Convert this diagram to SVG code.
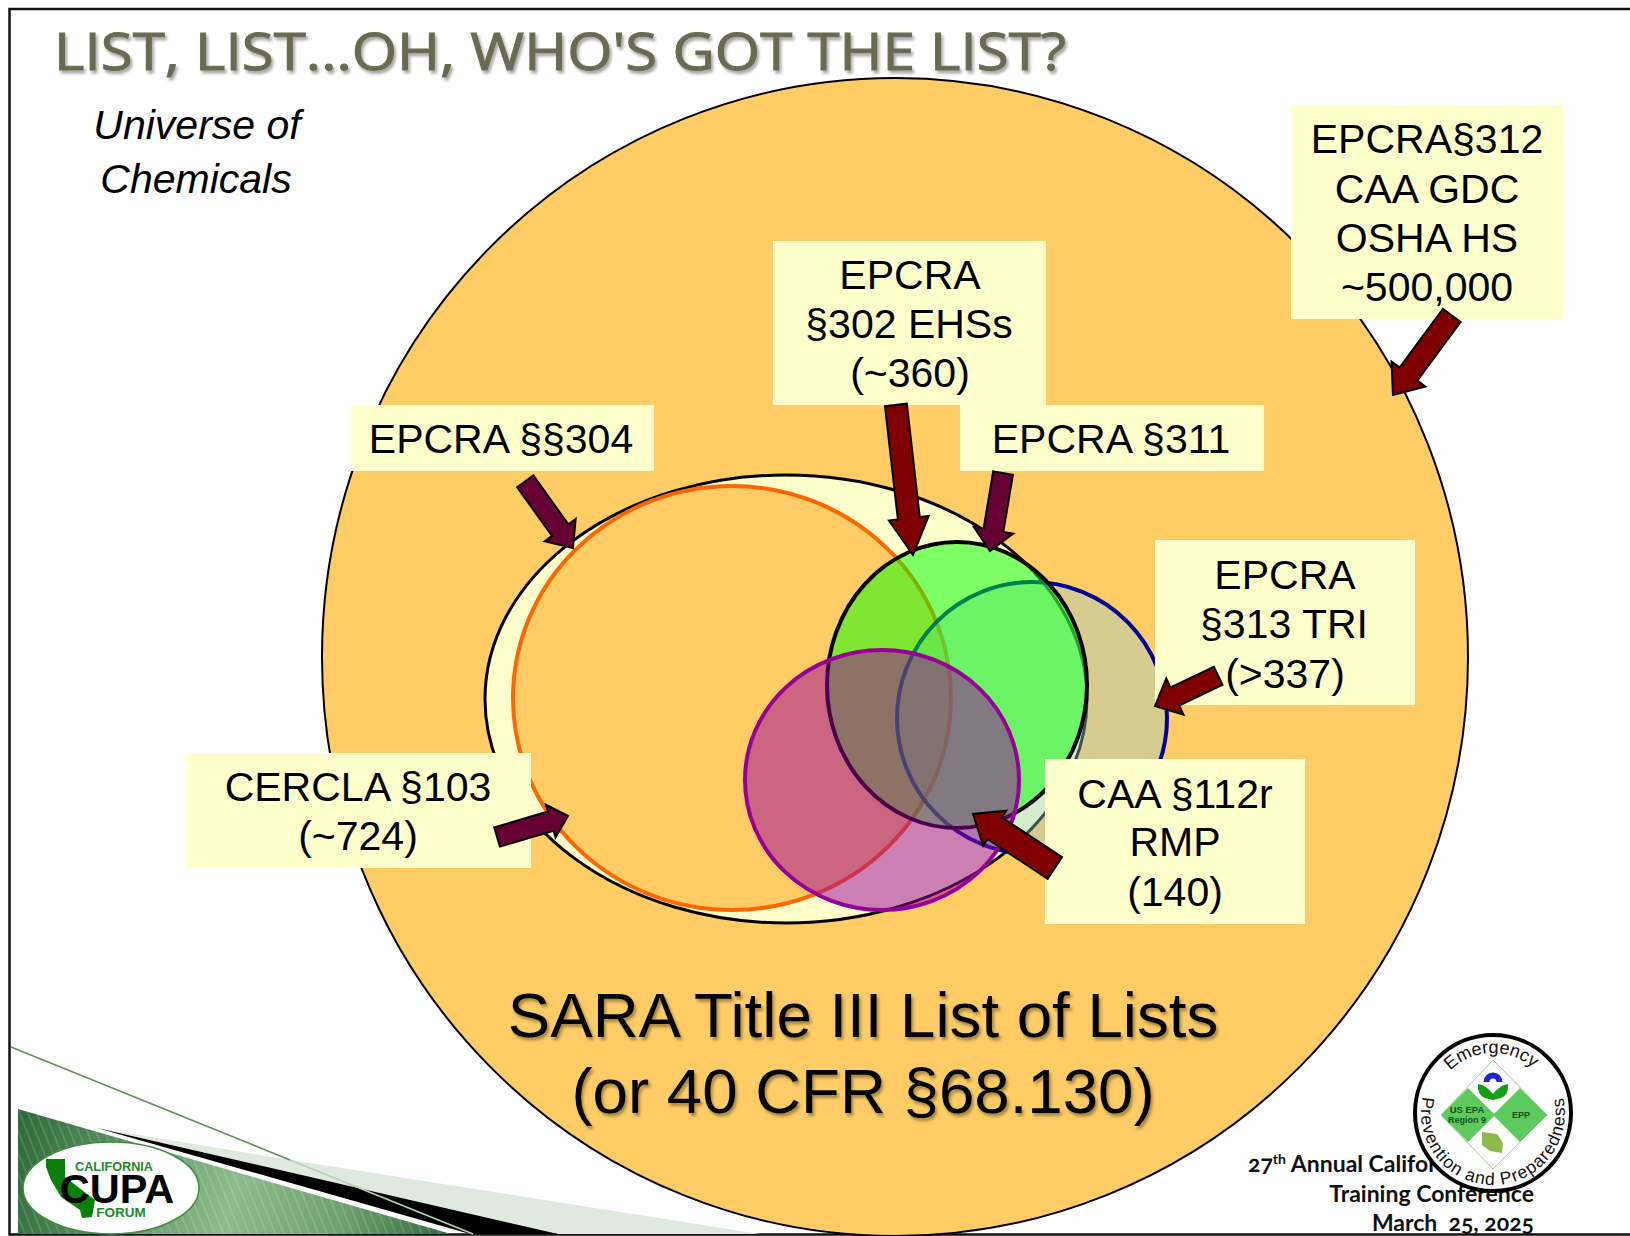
<svg xmlns="http://www.w3.org/2000/svg" width="1630" height="1236" viewBox="0 0 1630 1236">
<style>
.lb{font-family:"Liberation Sans",Arial,sans-serif;font-size:41px;fill:#000;text-anchor:middle}
.box{fill:#FFFFCC}
.ar{fill:#800000;stroke:#000;stroke-width:2}
.ap{fill:#660033;stroke:#000;stroke-width:2}
.ft{font-family:"Lato","Open Sans",sans-serif;font-weight:700;font-size:23px;fill:#111;font-variant-numeric:oldstyle-nums}
.em{font-family:"Liberation Sans",Arial,sans-serif;font-size:17.5px;fill:#111}
.sm{font-family:"Liberation Sans",Arial,sans-serif;font-weight:700;text-anchor:middle;fill:#14501E}
</style>
<defs>
<filter id="sh" x="-5%" y="-20%" width="110%" height="140%"><feDropShadow dx="2" dy="3" stdDeviation="1.5" flood-color="#000" flood-opacity=".35"/></filter>
<linearGradient id="gg" gradientUnits="userSpaceOnUse" x1="18" y1="1130" x2="450" y2="1234">
<stop offset="0" stop-color="#2F6B3A"/><stop offset=".5" stop-color="#8DBB8D"/><stop offset=".75" stop-color="#6FA270"/><stop offset="1" stop-color="#2F6B3A"/>
</linearGradient>
<pattern id="hatch" width="8" height="8" patternUnits="userSpaceOnUse" patternTransform="rotate(-22)"><rect width="2" height="8" fill="#fff" opacity=".13"/></pattern>
<path id="em1" d="M1433 1113a60 60 0 0 1 120 0"/>
<path id="em2" d="M1425.300 1088.400a72 72 0 1 0 135.400 0"/>
</defs>
<rect width="1630" height="1236" fill="#fff"/>
<path d="M1630 9H9.500V1234.500H1630" fill="none" stroke="#111" stroke-width="2.500"/>

<g id="footer-decor">
<path d="M18 1109L451 1234H18Z" fill="url(#gg)"/>
<path d="M18 1109L451 1234H18Z" fill="url(#hatch)"/>
<path d="M97 1128L291 1160L760 1234H558Z" fill="#E0E9E0"/>
<path d="M97 1128L558 1234H470Z" fill="#000"/>
<line x1="11" y1="1047" x2="290" y2="1160" stroke="#5F8F63" stroke-width="1.600"/>
<line x1="290" y1="1160" x2="473" y2="1234" stroke="#B5D0B5" stroke-width="1.800"/>
</g>

<g id="universe"><ellipse cx="895" cy="657" rx="573" ry="579" fill="#FFCC66" stroke="#000" stroke-width="2"/></g>
<g id="sara"><ellipse cx="786" cy="699" rx="301" ry="224" fill="#FFFFCC" stroke="#000" stroke-width="3"/></g>
<g id="cercla-circle"><ellipse cx="732" cy="698" rx="219" ry="212" fill="#FFCC66" stroke="#FF6600" stroke-width="4"/></g>
<g id="tri-circle"><ellipse cx="1032" cy="718" rx="135" ry="136" fill="#99CCCC" fill-opacity=".4" stroke="#000099" stroke-width="4"/></g>
<g id="ehs-circle"><ellipse cx="957" cy="685" rx="130" ry="143" fill="#00FF00" fill-opacity=".5"/><ellipse cx="957" cy="685" rx="130" ry="143" fill="none" stroke="#000" stroke-width="4"/></g>
<g id="rmp-circle"><ellipse cx="882" cy="780" rx="137" ry="130" fill="#990099" fill-opacity=".5" stroke="#990099" stroke-width="4"/></g>

<g id="title"><text x="54" y="70" font-family="'Open Sans','Lato',sans-serif" font-size="52" fill="#6B6B52" stroke="#6B6B52" stroke-width="1" textLength="1012" lengthAdjust="spacingAndGlyphs" filter="url(#sh)">LIST, LIST...OH, WHO'S GOT THE LIST?</text></g>
<g id="universe-label"><text class="lb" x="197" y="139" font-style="italic">Universe of</text><text class="lb" x="196" y="193" font-style="italic">Chemicals</text></g>

<g id="n312"><rect class="box" x="1291" y="105" width="272" height="214"/><text class="lb" x="1427" y="153">EPCRA§312</text><text class="lb" x="1427" y="203">CAA GDC</text><text class="lb" x="1427" y="252">OSHA HS</text><text class="lb" x="1427" y="301">~500,000</text></g>
<g id="n302"><rect class="box" x="773" y="241" width="273" height="164"/><text class="lb" x="910" y="289">EPCRA</text><text class="lb" x="909" y="338">§302 EHSs</text><text class="lb" x="910" y="387">(~360)</text></g>
<g id="n304"><rect class="box" x="351" y="405" width="303" height="66"/><text class="lb" x="501" y="453">EPCRA §§304</text></g>
<g id="n311"><rect class="box" x="960" y="405" width="304" height="66"/><text class="lb" x="1111" y="453">EPCRA §311</text></g>
<g id="n313"><rect class="box" x="1155" y="540" width="260" height="165"/><text class="lb" x="1285" y="589">EPCRA</text><text class="lb" x="1284" y="638">§313 TRI</text><text class="lb" x="1285" y="688">(&gt;337)</text></g>
<g id="n112"><rect class="box" x="1045" y="759" width="260" height="165"/><text class="lb" x="1175" y="808">CAA §112r</text><text class="lb" x="1175" y="856">RMP</text><text class="lb" x="1175" y="906">(140)</text></g>
<g id="n103"><rect class="box" x="186" y="753" width="345" height="115"/><text class="lb" x="358" y="801">CERCLA §103</text><text class="lb" x="358" y="850">(~724)</text></g>

<g id="connectors">
<path class="ar" transform="translate(1393 395) rotate(126.4)" d="M0 0L-26-21V-11H-99V11H-26V21Z"/>
<path class="ar" transform="translate(913 555) rotate(83.5)" d="M0 0L-37-20V-11H-151V11H-37V20Z"/>
<path class="ap" transform="translate(990 551) rotate(99.500)" d="M0 0L-21-20V-10H-79V10H-21V20Z"/>
<path class="ap" transform="translate(573 548) rotate(54.400)" d="M0 0L-22-19V-10H-82V10H-22V19Z"/>
<path class="ar" transform="translate(1155 706) rotate(154.500)" d="M0 0L-22-20V-10H-70V10H-22V20Z"/>
<path class="ar" transform="translate(973 814) rotate(213.400)" d="M0 0L-26-21V-13H-98V13H-26V21Z"/>
<path class="ap" transform="translate(568 816) rotate(-16.500)" d="M0 0L-18-17V-10H-74V10H-18V17Z"/>
</g>

<g id="sara-label" filter="url(#sh)"><text x="863" y="1037" font-family="'Liberation Sans',Arial,sans-serif" font-size="63.600" text-anchor="middle">SARA Title III List of Lists</text><text x="863" y="1113" font-family="'Liberation Sans',Arial,sans-serif" font-size="63.600" text-anchor="middle">(or 40 CFR §68.130)</text></g>

<g id="cupa-logo">
<ellipse cx="111" cy="1188" rx="88" ry="46" fill="#fff" stroke="#3E8E3E" stroke-width="1.500"/>
<path d="M46 1159H65V1177L95 1200L92 1217L82 1218L80 1210L61 1197L51 1180L46 1167Z" fill="#0A7F0A"/>
<text x="114" y="1171" font-family="'Liberation Sans',Arial,sans-serif" font-weight="700" font-size="13.500" fill="#1F8A2A" text-anchor="middle" textLength="78" lengthAdjust="spacingAndGlyphs">CALIFORNIA</text>
<text x="117" y="1203" font-family="'Liberation Sans',Arial,sans-serif" font-weight="700" font-size="41.500" fill="#000" text-anchor="middle">CUPA</text>
<text x="121" y="1217" font-family="'Liberation Sans',Arial,sans-serif" font-weight="700" font-size="13.500" fill="#1F8A2A" text-anchor="middle">FORUM</text>
</g>

<g id="conference"><text class="ft" x="1248" y="1172">27<tspan font-size="14" dy="-8">th</tspan><tspan dy="8"> Annual Califor</tspan></text><text class="ft" x="1534" y="1202" text-anchor="end">Training Conference</text><text class="ft" x="1534" y="1231" text-anchor="end" xml:space="preserve">March  25, 2025</text></g>

<g id="epp-emblem">
<circle cx="1493" cy="1113" r="78" fill="#fff" stroke="#000" stroke-width="4"/>
<path d="M1493 1060L1547 1115L1493 1169L1441 1115Z" fill="#fff" stroke="#9CCB9C" stroke-width="1"/>
<path d="M1441 1115L1468 1088L1495 1115L1468 1142ZM1493 1115L1520 1088L1547 1115L1520 1142Z" fill="#5CCB5C"/>
<path d="M1483.500 1082a9.500 9.500 0 0 1 19 0h-6a3.500 3.500 0 0 0-7 0Z" fill="#2222CC"/>
<path d="M1478 1084Q1486 1085 1493 1094Q1500 1085 1508 1084Q1509 1095 1501 1098L1493 1100L1485 1098Q1477 1095 1478 1084Z" fill="#12A012"/>
<path d="M1482 1132L1497 1134L1503 1143L1502 1153L1490 1151L1482 1145Z" fill="#8CB84C"/>
<text class="sm" x="1467" y="1113" font-size="9.500">US EPA</text><text class="sm" x="1467" y="1123" font-size="9">Region 9</text><text class="sm" x="1521" y="1118" font-size="9">EPP</text>
<text class="em" font-size="18" style="font-size:18px"><textPath href="#em1" startOffset="49%" text-anchor="middle">Emergency</textPath></text>
<text class="em" letter-spacing="1"><textPath href="#em2" startOffset="50%" text-anchor="middle">Prevention and Preparedness</textPath></text>
</g>
</svg>
